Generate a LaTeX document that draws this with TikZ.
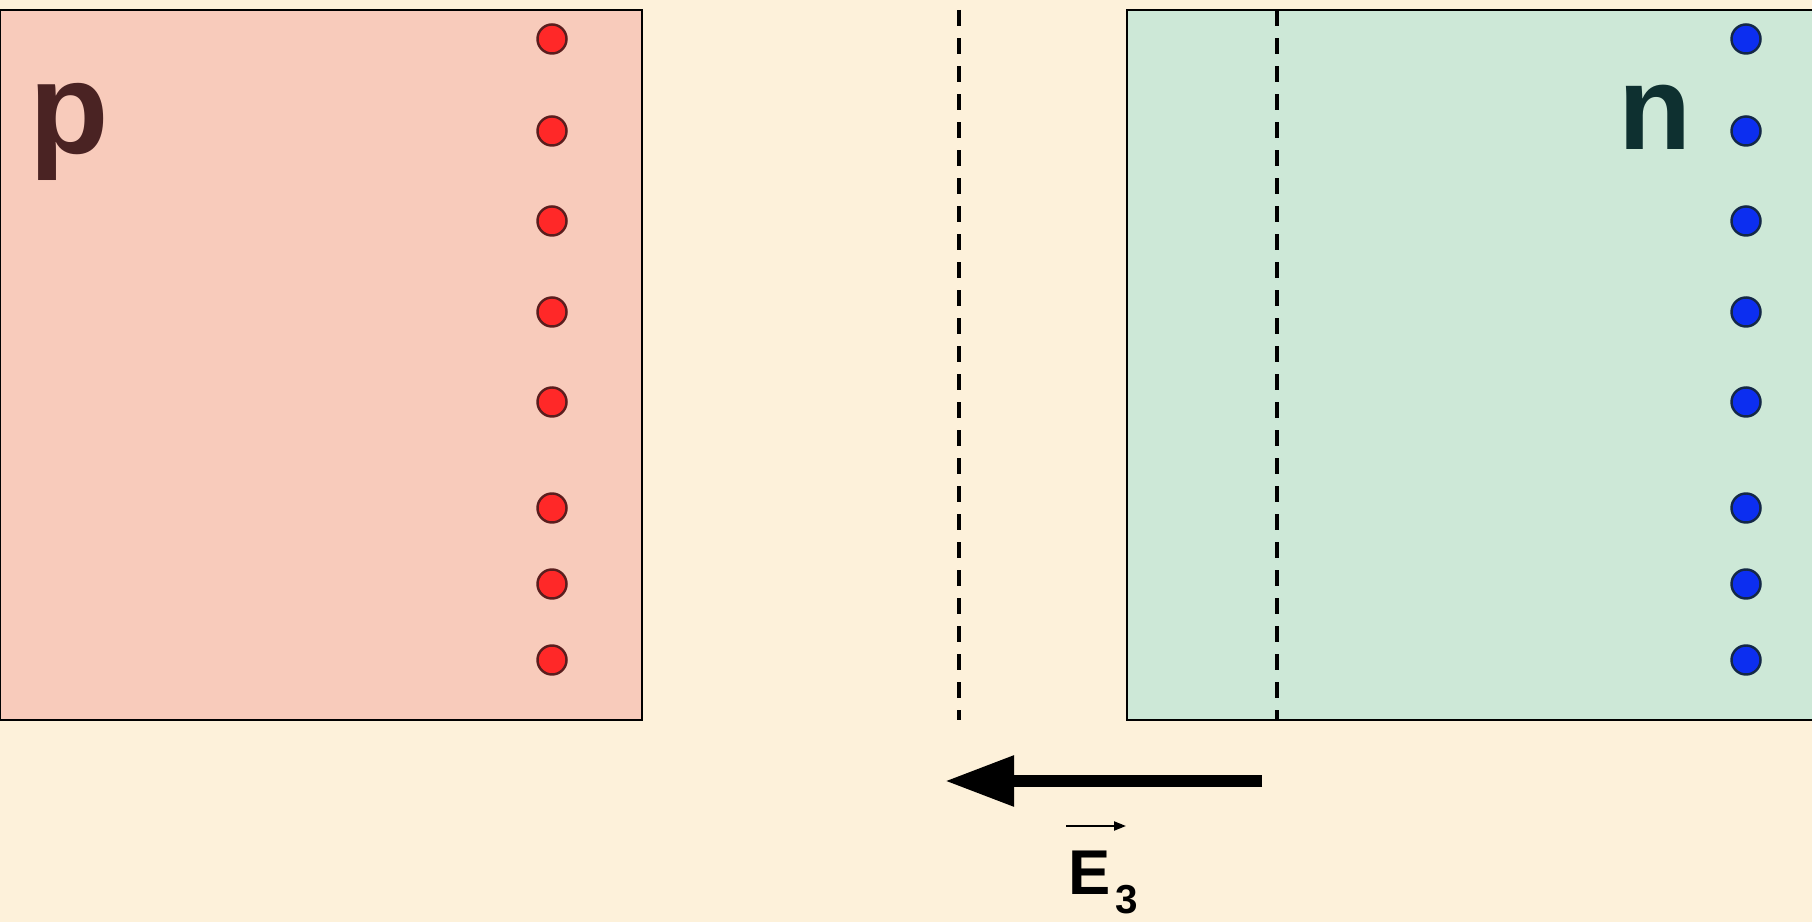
\documentclass[tikz,border=0pt]{standalone}
\usepackage{fontspec}
\setmainfont{Liberation Sans}
\usetikzlibrary{arrows.meta}
\definecolor{paper}{RGB}{253,241,218}
\definecolor{pside}{RGB}{248,203,187}
\definecolor{nside}{RGB}{205,232,215}
\definecolor{pink}{RGB}{74,35,35}
\definecolor{nink}{RGB}{14,48,48}
\definecolor{hole}{RGB}{255,40,40}
\definecolor{holeedge}{RGB}{90,30,30}
\definecolor{elec}{RGB}{12,46,240}
\definecolor{elecedge}{RGB}{20,40,70}
\tikzset{
  regionlabel/.style={anchor=base west,inner sep=0pt,font=\fontsize{34}{38}\selectfont\bfseries},
  holedot/.style={circle,fill=hole,draw=holeedge,line width=0.7pt,minimum size=0.29cm,inner sep=0pt},
  elecdot/.style={circle,fill=elec,draw=elecedge,line width=0.7pt,minimum size=0.29cm,inner sep=0pt},
  edgeline/.style={black,line width=1.1pt,dash pattern=on 0.16cm off 0.12cm},
}
\begin{document}
\begin{tikzpicture}[x=0.01cm,y=-0.01cm]
    \fill[paper] (0,0) rectangle (1812,922);% background
    \useasboundingbox (0,0) rectangle (1812,922);
    \filldraw[fill=pside,line width=0.6pt] (0,10) rectangle (642,720);% p region
    \filldraw[fill=nside,line width=0.6pt] (1127,10) rectangle (1814,720);% n region
    \node[regionlabel,text=pink,font=\fontsize{37}{40}\selectfont\bfseries] (p) at (29,154) {p};% label the p side
    \node[regionlabel,text=nink] (n) at (1618,150) {n};% label the n side
    % charges along the edges
    \foreach \y [count=\i] in {39,131,221,312,402,508,584,660}
        \node[holedot] (h\i) at (552,\y) {};
    \foreach \y [count=\i] in {39,131,221,312,402,508,584,660}
        \node[elecdot] (e\i) at (1746,\y) {};
    % depletion edges
    \draw[edgeline] (959,10) -- (959,720);
    \draw[edgeline] (1277,10) -- (1277,720);
    % field
    \coordinate (ftail) at (1262,781);
    \coordinate (fhead) at (945,781);
    \draw[line width=3.4pt,-{Triangle[length=0.69cm,width=0.48cm]}] (ftail) -- (fhead);
    \node[anchor=base west,inner sep=0pt,font=\fontsize{18}{20}\selectfont\bfseries] (E) at (1068,894)
        {E\hspace{0.05cm}\raisebox{-0.19cm}{\fontsize{11.5}{12}\selectfont 3}};
    \draw[line width=0.6pt,-{Triangle[length=0.12cm,width=0.09cm]}] ([shift={(-2,-68)}]E.base west) -- ([shift={(58,-68)}]E.base west);
\end{tikzpicture}
\end{document}
